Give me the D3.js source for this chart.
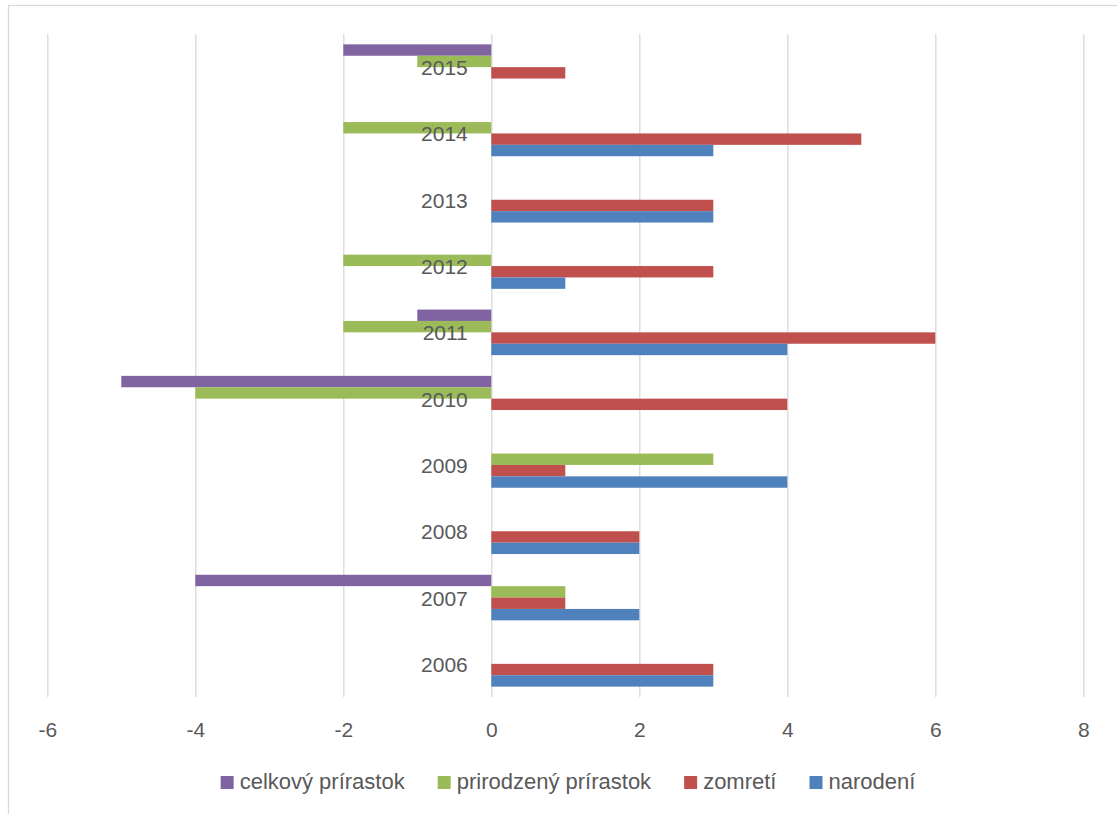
<!DOCTYPE html>
<html>
<head>
<meta charset="utf-8">
<script src="https://cdn.jsdelivr.net/npm/d3@7"></script>
<style>
  html, body { margin: 0; padding: 0; background: #ffffff; }
  svg { display: block; }
  text { font-family: "Liberation Sans", Arial, sans-serif; fill: #595959; }
</style>
</head>
<body>
<svg id="chart" width="1117" height="814"></svg>
<script>
// ---- data ----
const years = ["2006","2007","2008","2009","2010","2011","2012","2013","2014","2015"];
const seriesNames = ["celkový prírastok","prirodzený prírastok","zomretí","narodení"];
const narodeni  = [3, 2, 2, 4, 0, 4, 1, 3, 3, 0];
const zomreti   = [3, 1, 2, 1, 4, 6, 3, 3, 5, 1];
const prirodzeny = [0, 1, 0, 3, -4, -2, -2, 0, -2, -1];
const celkovy   = [0, -4, 0, 0, -5, -1, 0, 0, 0, -2];
const xTicks = [-6, -4, -2, 0, 2, 4, 6, 8];
const colors = ["#8064a2", "#9bbb59", "#c0504d", "#4f81bd"];

const valuesBySeries = [celkovy, prirodzeny, zomreti, narodeni];

// ---- layout ----
const svg = d3.select("#chart");
const plot = { left: 47.3, right: 1083.3, top: 34, bottom: 697 };

// outer frame (extends beyond right/bottom edges like the reference)
svg.append("rect")
  .attr("x", 8.5).attr("y", 5.5)
  .attr("width", 1200).attr("height", 900)
  .attr("fill", "none").attr("stroke", "#d9d9d9").attr("stroke-width", 1.3);

const x = d3.scaleLinear().domain([-6, 8]).range([plot.left, plot.right]);
const y0 = d3.scaleBand().domain(years.slice().reverse()).range([plot.top, plot.bottom]).paddingInner(0).paddingOuter(0);
const bw = y0.bandwidth();
const y1 = d3.scaleBand().domain(seriesNames).range([0, bw]).paddingInner(0).paddingOuter(0.91);

// gridlines
const xAxis = d3.axisBottom(x).tickValues(xTicks).tickSize(-(plot.bottom - plot.top)).tickPadding(0).tickFormat(d3.format("d"));
const gx = svg.append("g").attr("transform", `translate(0,${plot.bottom})`).call(xAxis);
gx.select(".domain").remove();
gx.selectAll(".tick line").attr("stroke", "#d9d9d9").attr("stroke-width", 1.3);
gx.selectAll(".tick text")
  .attr("y", 40).attr("dy", 0)
  .style("font-size", "21px").style("fill", "#595959")
  .text(d => d < 0 ? "-" + Math.abs(d) : d);

// bars
const rows = [];
years.forEach((yr, i) => {
  seriesNames.forEach((s, j) => {
    rows.push({ year: yr, series: s, value: valuesBySeries[j][i], color: colors[j] });
  });
});
svg.append("g").selectAll("rect")
  .data(rows.filter(d => d.value !== 0))
  .join("rect")
  .attr("x", d => x(Math.min(0, d.value)))
  .attr("width", d => Math.abs(x(d.value) - x(0)))
  .attr("y", d => y0(d.year) + y1(d.series))
  .attr("height", y1.bandwidth())
  .attr("fill", d => d.color);

// category labels
svg.append("g").selectAll("text")
  .data(years)
  .join("text")
  .attr("x", x(0) - 23.5)
  .attr("y", d => y0(d) + bw / 2 + 8)
  .attr("text-anchor", "end")
  .style("font-size", "21px")
  .text(d => d);

// legend
const legend = svg.append("g");
const items = legend.selectAll("g").data(seriesNames).join("g");
items.append("rect").attr("width", 13).attr("height", 13).attr("y", 776)
  .attr("fill", (d, i) => colors[i]);
items.append("text").attr("x", 19).attr("y", 789)
  .style("font-size", "22px").text(d => d);
let widths = [];
items.each(function() { widths.push(19 + this.querySelector("text").getComputedTextLength()); });
const gap = 33;
const total = d3.sum(widths) + gap * (widths.length - 1);
let cx = 568 - total / 2;
items.each(function(d, i) {
  d3.select(this).attr("transform", `translate(${cx},0)`);
  cx += widths[i] + gap;
});
</script>
</body>
</html>
